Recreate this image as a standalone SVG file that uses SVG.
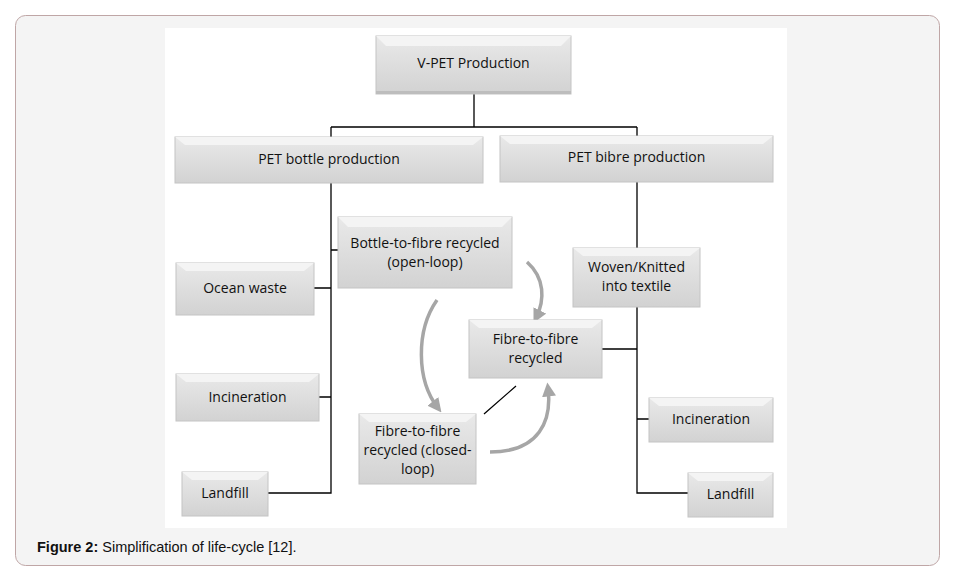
<svg xmlns="http://www.w3.org/2000/svg" width="957" height="572" viewBox="0 0 957 572">
<defs>
<linearGradient id="g" x1="0" y1="0" x2="0" y2="1"><stop offset="0" stop-color="#e9e9e9"/><stop offset="1" stop-color="#d2d2d2"/></linearGradient>
<marker id="ah" viewBox="0 0 10 10" refX="6" refY="5" markerWidth="4" markerHeight="4" orient="auto"><path d="M0,0 L10,5 L0,10 z" fill="#a6a6a6"/></marker>
</defs>
<style>
.b{fill:url(#g);stroke:#c4c4c4;stroke-width:1}
.bt{fill:#f4f4f4}
.bs{fill:#bdbdbd}
.t{font-family:"Open Sans","Noto Sans",sans-serif;font-size:14px;fill:#111;text-anchor:middle}
.c{stroke:#000;stroke-width:1.3;fill:none}
.a{stroke:#a6a6a6;stroke-width:3.5;fill:none;marker-end:url(#ah)}
</style>
<rect x="15.5" y="15.5" width="924" height="550" rx="10" fill="#f4f4f4" stroke="#bfa6a6"/>
<rect x="165" y="28" width="622" height="500" fill="#fff"/>
<g id="connectors">
<path class="c" d="M474,94V127M331,127H637M331,127V137M637,127V136M331,183V493H268M314,288H331M319,397H331M331,250H338M637,182V248M637,307V493H688M602,349H637M637,419H649M484,414L516,386"/>
<path class="a" d="M527,262 C545,278 545,300 536,318"/>
<path class="a" d="M437,300 C416,330 416,380 438,408"/>
<path class="a" d="M490,452 C540,452 552,420 548,388"/>
</g>
<g id="n1"><rect class="b" x="376" y="36" width="195" height="58"/><polygon class="bt" points="376,36 571,36 561,46 386,46"/><polygon class="bs" points="376,94 571,94 571,91 376,91"/><text class="t" x="473.5" y="68">V-PET Production</text></g>
<g id="n2"><rect class="b" x="175" y="137" width="308" height="46"/><polygon class="bt" points="175,137 483,137 473,145 185,145"/><text class="t" x="329" y="164">PET bottle production</text></g>
<g id="n3"><rect class="b" x="500" y="136" width="273" height="46"/><polygon class="bt" points="500,136 773,136 763,144 510,144"/><text class="t" x="636.5" y="162">PET bibre production</text></g>
<g id="n4"><rect class="b" x="338" y="217" width="174" height="71"/><polygon class="bt" points="338,217 512,217 502,227 348,227"/><text class="t" x="425" y="248">Bottle-to-fibre recycled</text><text class="t" x="425" y="267">(open-loop)</text></g>
<g id="n5"><rect class="b" x="176" y="263" width="138" height="52"/><polygon class="bt" points="176,263 314,263 304,271 186,271"/><text class="t" x="245" y="293">Ocean waste</text></g>
<g id="n6"><rect class="b" x="573" y="248" width="127" height="59"/><polygon class="bt" points="573,248 700,248 690,256 583,256"/><text class="t" x="636.5" y="272">Woven/Knitted</text><text class="t" x="636.5" y="291">into textile</text></g>
<g id="n7"><rect class="b" x="469" y="320" width="133" height="58"/><polygon class="bt" points="469,320 602,320 592,328 479,328"/><text class="t" x="535.5" y="344">Fibre-to-fibre</text><text class="t" x="535.5" y="363">recycled</text></g>
<g id="n8"><rect class="b" x="176" y="374" width="143" height="47"/><polygon class="bt" points="176,374 319,374 309,382 186,382"/><text class="t" x="247.5" y="402">Incineration</text></g>
<g id="n9"><rect class="b" x="359" y="414" width="117" height="70"/><polygon class="bt" points="359,414 476,414 466,422 369,422"/><text class="t" x="417.5" y="436">Fibre-to-fibre</text><text class="t" x="417.5" y="455">recycled (closed-</text><text class="t" x="417.5" y="474">loop)</text></g>
<g id="n10"><rect class="b" x="649" y="398" width="124" height="44"/><polygon class="bt" points="649,398 773,398 763,406 659,406"/><text class="t" x="711" y="424">Incineration</text></g>
<g id="n11"><rect class="b" x="182" y="472" width="86" height="44"/><polygon class="bt" points="182,472 268,472 258,480 192,480"/><text class="t" x="225" y="498">Landfill</text></g>
<g id="n12"><rect class="b" x="688" y="473" width="85" height="44"/><polygon class="bt" points="688,473 773,473 763,481 698,481"/><text class="t" x="730.5" y="499">Landfill</text></g>
<text x="37" y="552" font-family="Liberation Sans,Arial,sans-serif" font-size="14.5" fill="#111"><tspan font-weight="bold">Figure 2:</tspan> Simplification of life-cycle [12].</text>
</svg>
